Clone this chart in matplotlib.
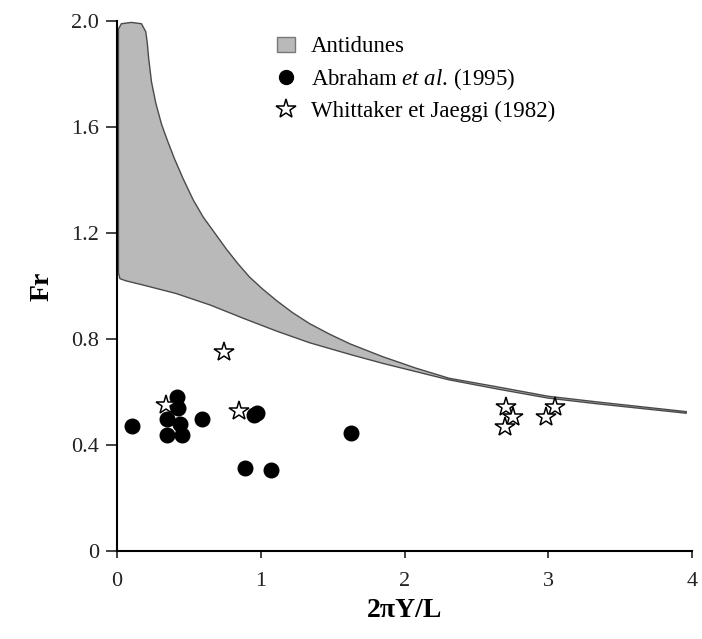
import matplotlib
matplotlib.use("Agg")
import matplotlib.pyplot as plt
from matplotlib.patches import Patch
from matplotlib.lines import Line2D

plt.rcParams['font.family'] = ['Liberation Serif', 'DejaVu Serif']
plt.rcParams['mathtext.fontset'] = 'custom'
plt.rcParams['mathtext.rm'] = 'Liberation Serif'
plt.rcParams['mathtext.it'] = 'Liberation Serif:italic'

# antidune zone: upper and lower limits (2piY/L, Fr)
upper_x = [0.01, 0.03, 0.10, 0.17, 0.20, 0.21, 0.22, 0.24, 0.27, 0.31, 0.35, 0.40, 0.46, 0.53, 0.60,
           0.68, 0.76, 0.84, 0.92, 1.01, 1.11, 1.22, 1.34, 1.48, 1.62, 1.85, 2.08, 2.31, 2.64, 3.00,
           3.35, 3.96]
upper_y = [1.97, 1.99, 1.995, 1.99, 1.96, 1.92, 1.86, 1.77, 1.69, 1.61, 1.55, 1.48, 1.405, 1.325, 1.26,
           1.20, 1.14, 1.085, 1.035, 0.99, 0.945, 0.90, 0.858, 0.818, 0.782, 0.733, 0.69, 0.652, 0.62,
           0.584, 0.562, 0.526]
lower_x = [0.01, 0.02, 0.06, 0.18, 0.41, 0.65, 0.88, 1.11, 1.34, 1.62, 1.85, 2.08, 2.31, 2.64, 3.00,
           3.35, 3.96]
lower_y = [1.05, 1.028, 1.02, 1.004, 0.972, 0.928, 0.878, 0.830, 0.786, 0.742, 0.708, 0.677, 0.646,
           0.612, 0.577, 0.555, 0.52]

# Abraham et al. (1995)
abraham_x = [0.107, 0.345, 0.419, 0.426, 0.438, 0.345, 0.449, 0.588, 0.951, 0.977, 0.891, 1.072, 1.63]
abraham_y = [0.473, 0.498, 0.582, 0.541, 0.478, 0.438, 0.438, 0.497, 0.513, 0.520, 0.312, 0.304, 0.446]

# Whittaker et Jaeggi (1982)
whit_x = [0.745, 0.338, 0.85, 2.706, 2.752, 2.699, 3.046, 2.986]
whit_y = [0.752, 0.551, 0.528, 0.542, 0.505, 0.469, 0.545, 0.505]

fig = plt.figure(figsize=(7.02, 6.39), dpi=100)
ax = fig.add_axes([0.1667, 0.1377, 0.8191, 0.8293])

poly_x = upper_x + lower_x[::-1]
poly_y = upper_y + lower_y[::-1]
ax.fill(poly_x, poly_y, facecolor='#b9b9b9', edgecolor='#4a4a4a', linewidth=1.0,
        joinstyle='round', zorder=1)

ax.plot(abraham_x, abraham_y, 'o', color='black', markersize=10.5, zorder=3)
ax.plot(whit_x, whit_y, '*', markerfacecolor='white', markeredgecolor='black',
        markeredgewidth=1.1, markersize=15, linestyle='none', zorder=4)

ax.set_xlim(0, 4)
ax.set_ylim(0, 2.0)
ax.set_xticks([0, 1, 2, 3, 4])
ax.set_xticklabels(['0', '1', '2', '3', '4'])
ax.set_yticks([0, 0.4, 0.8, 1.2, 1.6, 2.0])
ax.set_yticklabels(['0', '0.4', '0.8', '1.2', '1.6', '2.0'])
ax.spines['top'].set_visible(False)
ax.spines['right'].set_visible(False)
ax.spines['left'].set_linewidth(1.5)
ax.spines['bottom'].set_linewidth(1.5)
ax.tick_params(axis='both', labelsize=16, width=1.2, colors='#222222')
ax.tick_params(axis='y', length=8, pad=5)
ax.tick_params(axis='x', length=5, pad=10)

ax.set_xlabel('2πY/L', fontsize=20, fontweight='bold', labelpad=5)
ax.set_ylabel('Fr', fontsize=20, fontweight='bold', labelpad=12)

handles = [
    Patch(facecolor='#b9b9b9', edgecolor='#777777'),
    Line2D([], [], marker='o', color='black', linestyle='none', markersize=10),
    Line2D([], [], marker='*', markerfacecolor='white', markeredgecolor='black',
           linestyle='none', markersize=15, markeredgewidth=1.1),
]
labels = ['Antidunes', r'Abraham $\mathit{et\ al}$. (1995)', 'Whittaker et Jaeggi (1982)']
ax.legend(handles, labels, loc='upper left', bbox_to_anchor=(0.243, 1.01), frameon=False,
          fontsize=16.5, handlelength=0.75, handleheight=0.6, handletextpad=0.7,
          labelspacing=0.38)

plt.savefig('out.png', dpi=100)
